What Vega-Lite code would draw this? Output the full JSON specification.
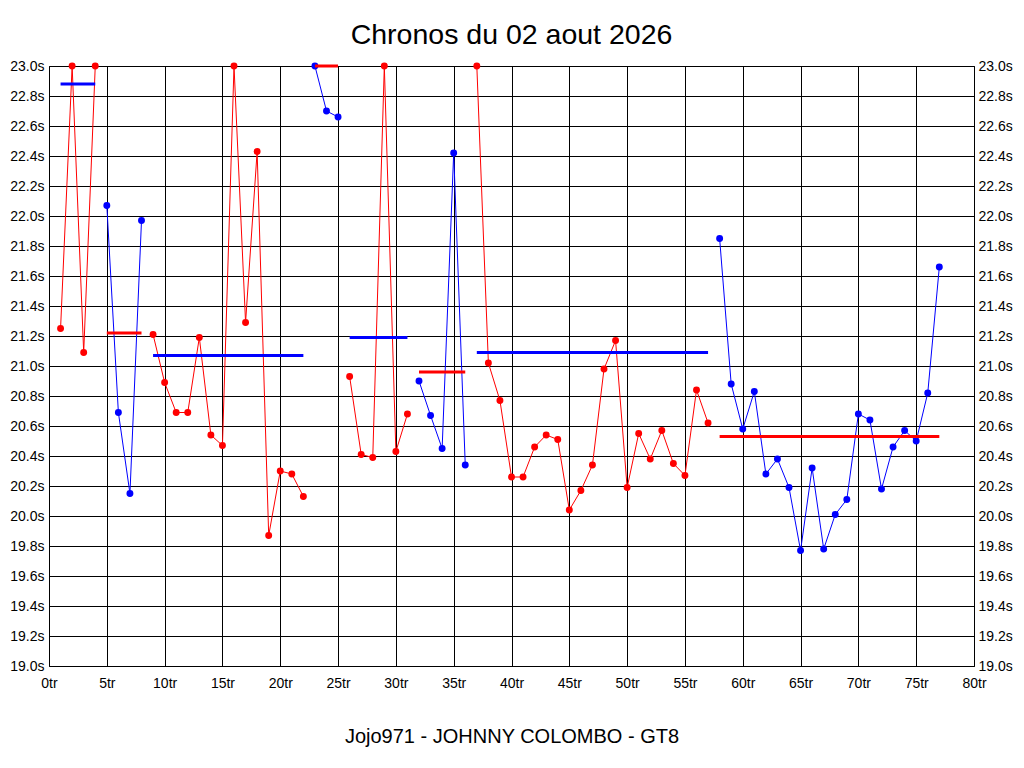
{
  "$schema": "https://vega.github.io/schema/vega-lite/v6.json",
  "autosize": "none",
  "width": 925,
  "height": 600,
  "padding": {"left": 49, "top": 66, "right": 50, "bottom": 102},
  "background": "white",
  "title": {
    "text": "Chronos du 02 aout 2026",
    "font": "Liberation Sans",
    "fontSize": 28.5,
    "fontWeight": "normal",
    "color": "black",
    "offset": 10
  },
  "config": {
    "view": {"stroke": "black", "strokeWidth": 1},
    "axis": {
      "labelFont": "Liberation Sans",
      "labelFontSize": 14,
      "labelColor": "black",
      "labelFlush": false,
      "ticks": false,
      "domain": false,
      "gridColor": "black",
      "gridOpacity": 1,
      "gridWidth": 1
    }
  },
  "datasets": {
    "tours": [
      {"tour": 1, "chrono": 21.25, "relais": 1},
      {"tour": 2, "chrono": 23.0, "relais": 1},
      {"tour": 3, "chrono": 21.09, "relais": 1},
      {"tour": 4, "chrono": 23.0, "relais": 1},
      {"tour": 5, "chrono": 22.07, "relais": 2},
      {"tour": 6, "chrono": 20.69, "relais": 2},
      {"tour": 7, "chrono": 20.15, "relais": 2},
      {"tour": 8, "chrono": 21.97, "relais": 2},
      {"tour": 9, "chrono": 21.21, "relais": 3},
      {"tour": 10, "chrono": 20.89, "relais": 3},
      {"tour": 11, "chrono": 20.69, "relais": 3},
      {"tour": 12, "chrono": 20.69, "relais": 3},
      {"tour": 13, "chrono": 21.19, "relais": 3},
      {"tour": 14, "chrono": 20.54, "relais": 3},
      {"tour": 15, "chrono": 20.47, "relais": 3},
      {"tour": 16, "chrono": 23.0, "relais": 3},
      {"tour": 17, "chrono": 21.29, "relais": 3},
      {"tour": 18, "chrono": 22.43, "relais": 3},
      {"tour": 19, "chrono": 19.87, "relais": 3},
      {"tour": 20, "chrono": 20.30, "relais": 3},
      {"tour": 21, "chrono": 20.28, "relais": 3},
      {"tour": 22, "chrono": 20.13, "relais": 3},
      {"tour": 23, "chrono": 23.0, "relais": 4},
      {"tour": 24, "chrono": 22.70, "relais": 4},
      {"tour": 25, "chrono": 22.66, "relais": 4},
      {"tour": 26, "chrono": 20.93, "relais": 5},
      {"tour": 27, "chrono": 20.41, "relais": 5},
      {"tour": 28, "chrono": 20.39, "relais": 5},
      {"tour": 29, "chrono": 23.0, "relais": 5},
      {"tour": 30, "chrono": 20.43, "relais": 5},
      {"tour": 31, "chrono": 20.68, "relais": 5},
      {"tour": 32, "chrono": 20.90, "relais": 6},
      {"tour": 33, "chrono": 20.67, "relais": 6},
      {"tour": 34, "chrono": 20.45, "relais": 6},
      {"tour": 35, "chrono": 22.42, "relais": 6},
      {"tour": 36, "chrono": 20.34, "relais": 6},
      {"tour": 37, "chrono": 23.0, "relais": 7},
      {"tour": 38, "chrono": 21.02, "relais": 7},
      {"tour": 39, "chrono": 20.77, "relais": 7},
      {"tour": 40, "chrono": 20.26, "relais": 7},
      {"tour": 41, "chrono": 20.26, "relais": 7},
      {"tour": 42, "chrono": 20.46, "relais": 7},
      {"tour": 43, "chrono": 20.54, "relais": 7},
      {"tour": 44, "chrono": 20.51, "relais": 7},
      {"tour": 45, "chrono": 20.04, "relais": 7},
      {"tour": 46, "chrono": 20.17, "relais": 7},
      {"tour": 47, "chrono": 20.34, "relais": 7},
      {"tour": 48, "chrono": 20.98, "relais": 7},
      {"tour": 49, "chrono": 21.17, "relais": 7},
      {"tour": 50, "chrono": 20.19, "relais": 7},
      {"tour": 51, "chrono": 20.55, "relais": 7},
      {"tour": 52, "chrono": 20.38, "relais": 7},
      {"tour": 53, "chrono": 20.57, "relais": 7},
      {"tour": 54, "chrono": 20.35, "relais": 7},
      {"tour": 55, "chrono": 20.27, "relais": 7},
      {"tour": 56, "chrono": 20.84, "relais": 7},
      {"tour": 57, "chrono": 20.62, "relais": 7},
      {"tour": 58, "chrono": 21.85, "relais": 8},
      {"tour": 59, "chrono": 20.88, "relais": 8},
      {"tour": 60, "chrono": 20.58, "relais": 8},
      {"tour": 61, "chrono": 20.83, "relais": 8},
      {"tour": 62, "chrono": 20.28, "relais": 8},
      {"tour": 63, "chrono": 20.38, "relais": 8},
      {"tour": 64, "chrono": 20.19, "relais": 8},
      {"tour": 65, "chrono": 19.77, "relais": 8},
      {"tour": 66, "chrono": 20.32, "relais": 8},
      {"tour": 67, "chrono": 19.78, "relais": 8},
      {"tour": 68, "chrono": 20.01, "relais": 8},
      {"tour": 69, "chrono": 20.11, "relais": 8},
      {"tour": 70, "chrono": 20.68, "relais": 8},
      {"tour": 71, "chrono": 20.64, "relais": 8},
      {"tour": 72, "chrono": 20.18, "relais": 8},
      {"tour": 73, "chrono": 20.46, "relais": 8},
      {"tour": 74, "chrono": 20.57, "relais": 8},
      {"tour": 75, "chrono": 20.50, "relais": 8},
      {"tour": 76, "chrono": 20.82, "relais": 8},
      {"tour": 77, "chrono": 21.66, "relais": 8}
    ],
    "moyennes": [
      {"relais": 1, "debut": 1, "fin": 4, "moyenne": 22.88},
      {"relais": 2, "debut": 5, "fin": 8, "moyenne": 21.22},
      {"relais": 3, "debut": 9, "fin": 22, "moyenne": 21.07},
      {"relais": 4, "debut": 23, "fin": 25, "moyenne": 23.0},
      {"relais": 5, "debut": 26, "fin": 31, "moyenne": 21.19},
      {"relais": 6, "debut": 32, "fin": 36, "moyenne": 20.96},
      {"relais": 7, "debut": 37, "fin": 57, "moyenne": 21.09},
      {"relais": 8, "debut": 58, "fin": 77, "moyenne": 20.53}
    ]
  },
  "layer": [
    {
      "data": {"name": "tours"},
      "mark": {"type": "line", "strokeWidth": 1, "point": {"filled": true, "size": 48}},
      "encoding": {
        "x": {
          "field": "tour",
          "type": "quantitative",
          "scale": {"domain": [0, 80], "nice": false},
          "axis": {
            "values": [0, 5, 10, 15, 20, 25, 30, 35, 40, 45, 50, 55, 60, 65, 70, 75, 80],
            "labelExpr": "datum.value + 'tr'",
            "labelPadding": 10,
            "title": "Jojo971 - JOHNNY COLOMBO - GT8",
            "titleFont": "Liberation Sans",
            "titleFontSize": 20,
            "titleFontWeight": "normal",
            "titleColor": "black",
            "titlePadding": 36
          }
        },
        "y": {
          "field": "chrono",
          "type": "quantitative",
          "scale": {"domain": [19, 23], "nice": false, "zero": false},
          "axis": {
            "orient": "left",
            "values": [19, 19.2, 19.4, 19.6, 19.8, 20, 20.2, 20.4, 20.6, 20.8, 21, 21.2, 21.4, 21.6, 21.8, 22, 22.2, 22.4, 22.6, 22.8, 23],
            "labelExpr": "format(datum.value, '.1f') + 's'",
            "labelPadding": 5,
            "title": null
          }
        },
        "color": {
          "field": "relais",
          "type": "ordinal",
          "scale": {"domain": [1, 2, 3, 4, 5, 6, 7, 8], "range": ["#ff0000", "#0000ff", "#ff0000", "#0000ff", "#ff0000", "#0000ff", "#ff0000", "#0000ff"]},
          "legend": null
        }
      }
    },
    {
      "data": {"name": "moyennes"},
      "mark": {"type": "rule", "strokeWidth": 3},
      "encoding": {
        "x": {"field": "debut", "type": "quantitative"},
        "x2": {"field": "fin"},
        "y": {
          "field": "moyenne",
          "type": "quantitative",
          "axis": {
            "orient": "right",
            "values": [19, 19.2, 19.4, 19.6, 19.8, 20, 20.2, 20.4, 20.6, 20.8, 21, 21.2, 21.4, 21.6, 21.8, 22, 22.2, 22.4, 22.6, 22.8, 23],
            "labelExpr": "format(datum.value, '.1f') + 's'",
            "labelPadding": 4,
            "grid": false,
            "title": null
          }
        },
        "color": {
          "field": "relais",
          "type": "ordinal",
          "scale": {"domain": [1, 2, 3, 4, 5, 6, 7, 8], "range": ["#0000ff", "#ff0000", "#0000ff", "#ff0000", "#0000ff", "#ff0000", "#0000ff", "#ff0000"]},
          "legend": null
        }
      }
    }
  ],
  "resolve": {"scale": {"color": "independent"}, "axis": {"y": "independent"}}
}
